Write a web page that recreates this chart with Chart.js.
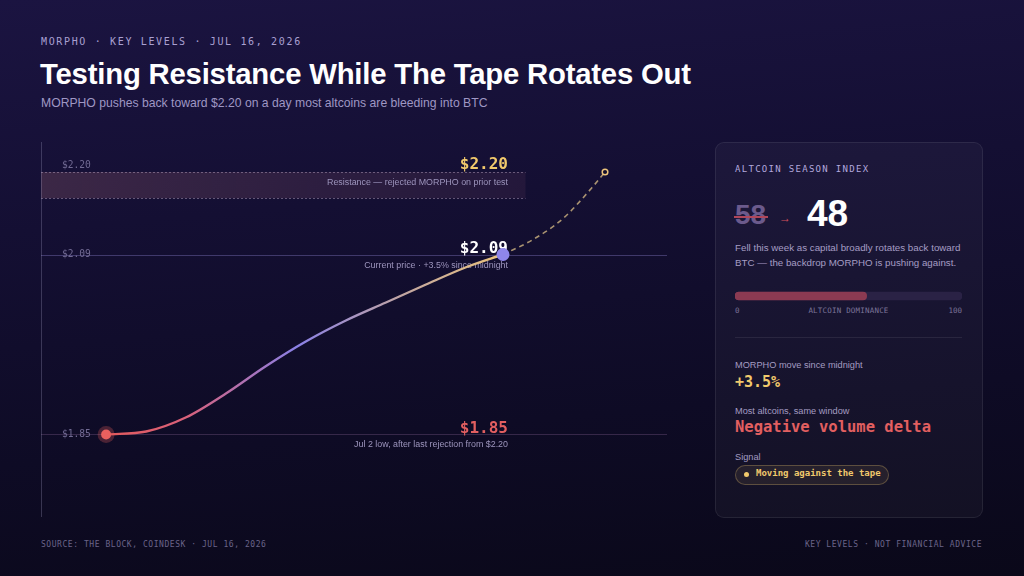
<!DOCTYPE html>
<html>
<head>
<meta charset="utf-8">
<script src="https://cdn.jsdelivr.net/npm/chart.js@4/dist/chart.umd.min.js"></script>
<style>
  html, body { margin: 0; padding: 0; }
  body {
    width: 1024px; height: 576px; overflow: hidden; position: relative;
    background: linear-gradient(175deg, #1b1441 0%, #140f33 35%, #0e0b25 70%, #0a0819 100%);
    font-family: "Liberation Sans", Arial, sans-serif;
  }
  .mono { font-family: "DejaVu Sans Mono", monospace; }
  .abs { position: absolute; white-space: nowrap; }
  #kicker { left: 41px; top: 36px; font-size: 10px; letter-spacing: 1.65px; color: #a9a0d2; }
  #title { left: 40px; top: 57px; font-size: 29.3px; font-weight: bold; color: #fff; letter-spacing: -0.2px; }
  #subtitle { left: 41px; top: 96px; font-size: 12.2px; color: #9f97c4; }
  #chartWrap { left: 41px; top: 142px; width: 626px; height: 375px; }
  #panel {
    left: 715px; top: 142px; width: 266px; height: 374px; border-radius: 9px;
    background: rgba(255,255,255,0.035); border: 1px solid rgba(255,255,255,0.08);
  }
  .foot { top: 540px; font-size: 8px; letter-spacing: 0.55px; color: #6a6489; }
  .lbl { font-size: 9.2px; color: #a49cc2; }
</style>
</head>
<body>
<div id="kicker" class="abs mono">MORPHO · KEY LEVELS · JUL 16, 2026</div>
<div id="title" class="abs">Testing Resistance While The Tape Rotates Out</div>
<div id="subtitle" class="abs">MORPHO pushes back toward $2.20 on a day most altcoins are bleeding into BTC</div>

<div id="chartWrap" class="abs"><canvas id="priceChart"></canvas></div>

<div id="panel" class="abs"></div>
<div class="abs mono" style="left:735px;top:164px;font-size:9px;letter-spacing:1.3px;color:#b3a9de;">ALTCOIN SEASON INDEX</div>
<div class="abs" style="left:735px;top:199px;font-size:28px;font-weight:bold;color:#6b5a8c;">58
  <div style="position:absolute;left:-1px;right:-2px;top:17px;height:2px;background:#b0465a;"></div></div>
<div class="abs" style="left:779px;top:211px;font-size:12px;color:#d2505c;">→</div>
<div class="abs" style="left:807px;top:193px;font-size:37px;font-weight:bold;color:#fff;">48</div>
<div class="abs" style="left:735px;top:240px;font-size:9.75px;line-height:15px;color:#a59dc4;">Fell this week as capital broadly rotates back toward<br>BTC — the backdrop MORPHO is pushing against.</div>
<div class="abs" style="left:735px;top:290px;width:227px;height:12px;"><canvas id="domChart"></canvas></div>
<div class="abs mono" style="left:735px;top:306px;font-size:7.5px;color:#7c7499;">0</div>
<div class="abs mono" style="left:735px;top:306px;width:227px;text-align:center;font-size:7.5px;letter-spacing:0.2px;color:#7c7499;">ALTCOIN DOMINANCE</div>
<div class="abs mono" style="left:735px;top:306px;width:227px;text-align:right;font-size:7.5px;color:#7c7499;">100</div>
<div class="abs" style="left:735px;top:337px;width:227px;height:1px;background:rgba(255,255,255,0.08);"></div>

<div class="abs lbl" style="left:735px;top:360px;">MORPHO move since midnight</div>
<div class="abs mono" style="left:735px;top:373px;font-size:15px;font-weight:bold;color:#f1c96c;">+3.5%</div>
<div class="abs lbl" style="left:735px;top:406px;">Most altcoins, same window</div>
<div class="abs mono" style="left:735px;top:418px;font-size:15.5px;font-weight:bold;color:#e25f60;">Negative volume delta</div>
<div class="abs lbl" style="left:735px;top:452px;">Signal</div>
<div class="abs" style="left:735px;top:465px;width:152px;height:18px;border-radius:10px;border:1px solid rgba(240,200,110,0.28);background:rgba(240,200,110,0.08);"></div>
<div class="abs" style="left:744px;top:472px;width:5px;height:5px;border-radius:50%;background:#f1c96c;"></div>
<div class="abs mono" style="left:756px;top:468px;font-size:9px;font-weight:bold;color:#f1c96c;">Moving against the tape</div>

<div class="abs mono foot" style="left:41px;">SOURCE: THE BLOCK, COINDESK · JUL 16, 2026</div>
<div class="abs mono foot" style="right:42px;">KEY LEVELS · NOT FINANCIAL ADVICE</div>

<script>
// price path (x = position along the session, y = price in $)
const priceX = [10.4, 16.8, 23.2, 29.6, 35.9, 42.3, 48.7, 55.1, 61.5, 67.9, 73.8];
const priceY = [1.85, 1.854, 1.873, 1.905, 1.941, 1.974, 2.002, 2.026, 2.05, 2.073, 2.09];

// dashed projection toward resistance
const projX = [73.8, 78.4, 83.4, 88.0, 90.1];
const projY = [2.09, 2.109, 2.138, 2.179, 2.20];

// key levels
const levelValues = [2.20, 2.09, 1.85];
const levelTicks = ['$2.20', '$2.09', '$1.85'];
const levelNotes = ['Resistance — rejected MORPHO on prior test', 'Current price · +3.5% since midnight', 'Jul 2 low, after last rejection from $2.20'];
const resistanceBand = [2.165, 2.20];

// altcoin dominance bar
const dominance = [58];
const dominanceMax = [100];

const toPts = (xs, ys) => xs.map((x, i) => ({x: x, y: ys[i]}));

function lineGradient(context) {
    const chart = context.chart;
    const xs = chart.scales.x;
    if (!xs || !chart.chartArea) return '#8a80e6';
    const x0 = xs.getPixelForValue(priceX[0]);
    const x1 = xs.getPixelForValue(priceX[priceX.length - 1]);
    const g = chart.ctx.createLinearGradient(x0, 0, x1, 0);
    g.addColorStop(0, '#e35a5c');
    g.addColorStop(0.2, '#d9617a');
    g.addColorStop(0.48, '#8a80e6');
    g.addColorStop(0.75, '#c2a6a2');
    g.addColorStop(1, '#ecc47c');
    return g;
}

const levelPlugin = {
    id: 'levels',
    beforeDatasetsDraw(chart) {
        const ctx = chart.ctx;
        const ys = chart.scales.y;
        const xs = chart.scales.x;
        const area = chart.chartArea;
        const bandRight = xs.getPixelForValue(77.4);
        const textRight = xs.getPixelForValue(74.6);
        ctx.save();
        // resistance band
        const yTop = ys.getPixelForValue(resistanceBand[1]);
        const yBot = ys.getPixelForValue(resistanceBand[0]);
        const bg = ctx.createLinearGradient(area.left, 0, bandRight, 0);
        bg.addColorStop(0, 'rgba(150,95,110,0.30)');
        bg.addColorStop(1, 'rgba(130,80,110,0.14)');
        ctx.fillStyle = bg;
        ctx.fillRect(area.left, yTop, bandRight - area.left, yBot - yTop);
        ctx.strokeStyle = 'rgba(190,170,200,0.45)';
        ctx.lineWidth = 1;
        ctx.setLineDash([2, 2]);
        [yTop, yBot].forEach(y => {
            ctx.beginPath();
            ctx.moveTo(area.left, Math.round(y) + 0.5);
            ctx.lineTo(bandRight, Math.round(y) + 0.5);
            ctx.stroke();
        });
        ctx.setLineDash([]);
        // solid level lines
        const lineCols = ['', 'rgba(140,130,205,0.38)', 'rgba(150,110,160,0.30)'];
        [1, 2].forEach(i => {
            const y = Math.round(ys.getPixelForValue(levelValues[i])) + 0.5;
            ctx.strokeStyle = lineCols[i];
            ctx.beginPath();
            ctx.moveTo(area.left, y);
            ctx.lineTo(area.right, y);
            ctx.stroke();
        });
        // axis line
        ctx.strokeStyle = 'rgba(170,165,200,0.28)';
        ctx.beginPath();
        ctx.moveTo(area.left + 0.5, area.top);
        ctx.lineTo(area.left + 0.5, area.bottom);
        ctx.stroke();
        // tick labels
        ctx.font = '9.6px "DejaVu Sans Mono"';
        ctx.fillStyle = '#716a93';
        ctx.textAlign = 'left';
        ctx.textBaseline = 'middle';
        const tickShift = [-7, 0, 0];
        levelValues.forEach((v, i) => {
            ctx.fillText(levelTicks[i], area.left + 21, ys.getPixelForValue(v) + tickShift[i]);
        });
        // value labels + notes
        const valCols = ['#f1c96c', '#ffffff', '#e25f60'];
        const valShift = [-7, -6, -6];
        const noteShift = [11, 11, 10];
        ctx.textAlign = 'right';
        levelValues.forEach((v, i) => {
            const y = ys.getPixelForValue(v);
            ctx.font = 'bold 16px "DejaVu Sans Mono"';
            ctx.fillStyle = valCols[i];
            ctx.fillText(levelTicks[i], textRight, y + valShift[i]);
            ctx.font = '8.9px "Liberation Sans"';
            ctx.fillStyle = '#9d95bd';
            ctx.fillText(levelNotes[i], textRight, y + noteShift[i]);
        });
        ctx.restore();
    }
};

const priceChart = new Chart(document.getElementById('priceChart'), {
    type: 'line',
    data: {
        datasets: [
            {
                data: toPts(priceX, priceY),
                borderColor: lineGradient,
                borderWidth: 2.4,
                cubicInterpolationMode: 'monotone',
                pointRadius: c => c.dataIndex === 0 ? 5 : (c.dataIndex === priceX.length - 1 ? 6.5 : 0),
                pointBackgroundColor: c => c.dataIndex === 0 ? '#e8605e' : '#8f86ea',
                pointBorderWidth: 0,
                order: 1
            },
            {
                data: toPts(projX, projY),
                borderColor: 'rgba(196,170,125,0.85)',
                borderWidth: 1.6,
                borderDash: [5, 4],
                cubicInterpolationMode: 'monotone',
                pointRadius: c => c.dataIndex === projX.length - 1 ? 2.8 : 0,
                pointBackgroundColor: '#120e2c',
                pointBorderColor: '#ecc47c',
                pointBorderWidth: 1.5,
                order: 2
            },
            {
                // halo round the Jul 2 low
                data: toPts(priceX.slice(0, 1), priceY.slice(0, 1)),
                showLine: false,
                pointRadius: 8.5,
                pointBackgroundColor: 'rgba(232,96,94,0.28)',
                pointBorderWidth: 0,
                order: 3
            }
        ]
    },
    options: {
        responsive: true,
        maintainAspectRatio: false,
        animation: false,
        clip: false,
        layout: { padding: 0, autoPadding: false },
        plugins: { legend: { display: false }, tooltip: { enabled: false } },
        scales: {
            x: { type: 'linear', min: 0, max: 100, display: false },
            y: { type: 'linear', min: 1.74, max: 2.24, display: false }
        }
    },
    plugins: [levelPlugin]
});

const domChart = new Chart(document.getElementById('domChart'), {
    type: 'bar',
    data: {
        labels: ['dominance'],
        datasets: [
            { data: dominance, backgroundColor: '#8b3a52', borderRadius: 4, borderSkipped: false, grouped: false, barThickness: 8 },
            { data: dominanceMax, backgroundColor: '#2a2245', borderRadius: 4, borderSkipped: false, grouped: false, barThickness: 8 }
        ]
    },
    options: {
        indexAxis: 'y',
        responsive: true,
        maintainAspectRatio: false,
        animation: false,
        layout: { padding: 0, autoPadding: false },
        plugins: { legend: { display: false }, tooltip: { enabled: false } },
        scales: {
            x: { min: 0, max: 100, display: false },
            y: { display: false }
        }
    }
});
</script>
</body>
</html>
